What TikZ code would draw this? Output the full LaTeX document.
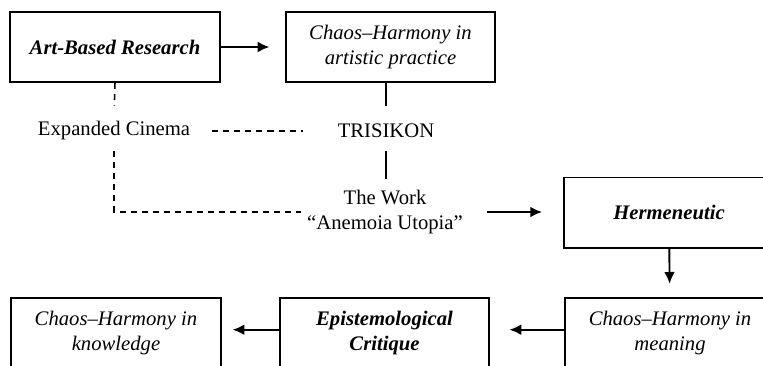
\documentclass[tikz,border=0pt]{standalone}
\usepackage{fontspec}
\setmainfont{Liberation Serif}
\usepackage{tikz}
\usetikzlibrary{arrows.meta, positioning, calc}
\newcommand{\diagfont}{\fontsize{12}{14.5}\selectfont}

\begin{document}
\begin{tikzpicture}[
    box/.style={rectangle, draw, line width=1.1pt, minimum width=4.28cm, minimum height=1.43cm, align=center, font=\diagfont\itshape},
    keybox/.style={box, font=\diagfont\bfseries\itshape},
    plain/.style={align=center, font=\diagfont},
    arrow/.style={-{Latex[length=2.4mm, width=2.2mm]}, line width=1.1pt},
    link/.style={line width=1.1pt},
    dashlink/.style={line width=0.9pt, dash pattern=on 3.5pt off 2.9pt}
]
    \useasboundingbox (0,0) rectangle (15.565,7.446);
    \clip (0,0) rectangle (15.565,7.446);

    % top row
    \node[keybox] (abr) at (2.346,6.487) {Art-Based Research};
    \node[box] (practice) at (7.966,6.487) {Chaos--Harmony in\\artistic practice};

    % middle texts
    \node[plain] (cinema) at (2.326,4.774) {Expanded Cinema};
    \node[plain] (trisikon) at (7.874,4.774) {TRISIKON};
    \node[plain] (work) at (7.854,3.121) {The Work\\``Anemoia Utopia''};
    \node[keybox] (herm) at (13.648,3.111) {Hermeneutic};

    % bottom row
    \node[box] (meaning) at (13.668,0.653) {Chaos--Harmony in\\meaning};
    \node[keybox] (critique) at (7.844,0.653) {Epistemological\\Critique};
    \node[box] (knowledge) at (2.366,0.653) {Chaos--Harmony in\\knowledge};

    \draw[arrow, shorten >=0.31cm] (abr) -- (practice);
    \draw[dashlink, shorten >=0.2cm] (abr.south) -- (cinema.north);
    \draw[dashlink, shorten <=0.1cm] (cinema.south) |- (work.west);
    \draw[dashlink, shorten <=0.33cm, shorten >=0.59cm] (cinema.east) -- (trisikon.west);
    \draw[link, shorten <=0.25cm] (trisikon.north) -- (trisikon.north |- practice.south);
    \draw[link, shorten <=0.15cm, shorten >=0.11cm] (trisikon.south) -- (trisikon.south |- work.north);
    \draw[arrow, shorten <=0.36cm, shorten >=0.43cm] (work.east) -- (work.east -| herm.west);
    \draw[arrow, shorten >=0.27cm] (herm) -- (meaning);
    \draw[arrow, shorten >=0.39cm] (meaning.west |- 0,0.72) -- (critique.east |- 0,0.72);
    \draw[arrow, shorten >=0.22cm] (critique.west |- 0,0.72) -- (knowledge.east |- 0,0.72);
\end{tikzpicture}
\end{document}
